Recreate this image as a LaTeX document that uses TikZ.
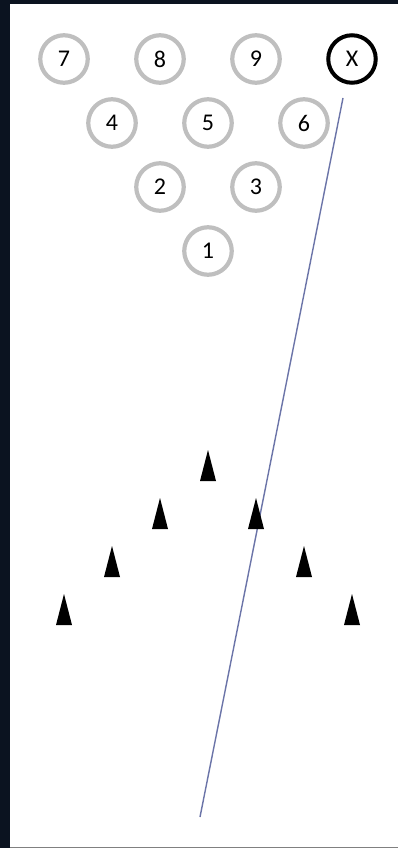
\documentclass[tikz,border=0pt]{standalone}
\usepackage{fontspec}
\setmainfont{Carlito}
\definecolor{pingray}{HTML}{BFBFBF}
\definecolor{lanebg}{HTML}{0B1320}
\definecolor{balline}{HTML}{6B74A8}
\tikzset{pin/.style={circle,draw=pingray,line width=4.2pt,minimum size=47.5pt,inner sep=0pt,font=\fontsize{24}{24}\selectfont},
  downpin/.style={pin,draw=black,line width=4pt}}
\begin{document}
\begin{tikzpicture}[x=1pt,y=-1pt]
\useasboundingbox (0,0) rectangle (398,848);
\fill[lanebg] (0,0) rectangle (398,848);
\fill[white] (10,4) rectangle (398,847);
\draw[gray,line width=1pt] (10,847) -- (398,847);
% back rows first
\foreach \n/\x/\y in {7/64/59,8/160/59,9/256/59,4/112/123,5/208/123,6/304/123,2/160/187,3/256/187,1/208/251}
  \node[pin] (p\n) at (\x,\y) {\n};
\node[downpin] (p10) at (352,59) {X};
% ball track
\coordinate (trackstart) at (343,98);
\coordinate (trackend) at (200,817);
\draw[balline,line width=1.4pt] (trackstart) -- (trackend);
\foreach \x/\y in {208/481,160/529,256/529,112/577,304/577,64/625,352/625}
  \fill (\x-8,\y) -- (\x,\y-31) -- (\x+8,\y) -- cycle;
\end{tikzpicture}
\end{document}
